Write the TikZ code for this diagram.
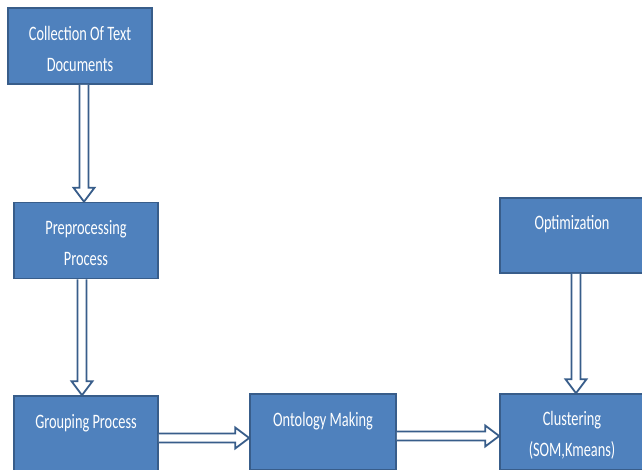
\documentclass[tikz,border=0pt]{standalone}
\usepackage{fontspec}
\setmainfont{Carlito}[FakeStretch=0.70]
\usetikzlibrary{calc}
\definecolor{boxfill}{HTML}{4F81BD}
\definecolor{boxline}{HTML}{385D8A}

\begin{document}
\begin{tikzpicture}[x=1pt,y=-1pt,
  proc/.style={draw=boxline, line width=1.6pt, fill=boxfill, text=white,
    minimum width=144pt, minimum height=76pt, align=center, inner sep=0pt,
    font=\fontsize{20.5}{31}\selectfont,
    execute at begin node={\rule{0pt}{51pt}}},
  flow/.style={draw=boxline, line width=1.8pt, fill=white, line join=miter,
    to path={($(\tikztostart)!4.5pt!90:(\tikztotarget)$)
      -- ($(\tikztotarget)!14pt!(\tikztostart)!4.5pt!-90:(\tikztostart)$)
      -- ($(\tikztotarget)!14pt!(\tikztostart)!10.5pt!-90:(\tikztostart)$)
      -- (\tikztotarget)
      -- ($(\tikztotarget)!14pt!(\tikztostart)!10.5pt!90:(\tikztostart)$)
      -- ($(\tikztotarget)!14pt!(\tikztostart)!4.5pt!90:(\tikztostart)$)
      -- ($(\tikztostart)!4.5pt!-90:(\tikztotarget)$)}}]
\useasboundingbox (0,0) rectangle (642,470);
\clip (0,0) rectangle (642,470);
\node(coll)[proc] at (80,46) {Collection Of Text\\Documents};
\node(prep)[proc] at (86,240.5) {Preprocessing\\Process};
\node(group)[proc] at (86,434) {Grouping Process\\\mbox{}};
\node(onto)[proc, minimum width=146pt] at (323,432) {Ontology Making\\\mbox{}};
\node(clus)[proc] at (572,432) {Clustering\\(SOM,Kmeans)};
\node(opt)[proc, minimum height=75pt] at (572,235.5) {Optimization\\\mbox{}};
\draw[flow] ([xshift=4pt]coll.south) to ([xshift=4pt]coll.south |- prep.north);
\draw[flow] ([xshift=-4pt]prep.south) to ([xshift=-4pt]prep.south |- group.north);
\draw[flow] ([yshift=-4pt]group.east) to ([yshift=-4pt]group.east -| onto.west);
\draw[flow] ([yshift=-4pt]onto.east) to ([yshift=-4pt]onto.east -| clus.west);
\draw[flow] ([xshift=4pt]opt.south) to ([xshift=4pt]opt.south |- clus.north);
\end{tikzpicture}
\end{document}
